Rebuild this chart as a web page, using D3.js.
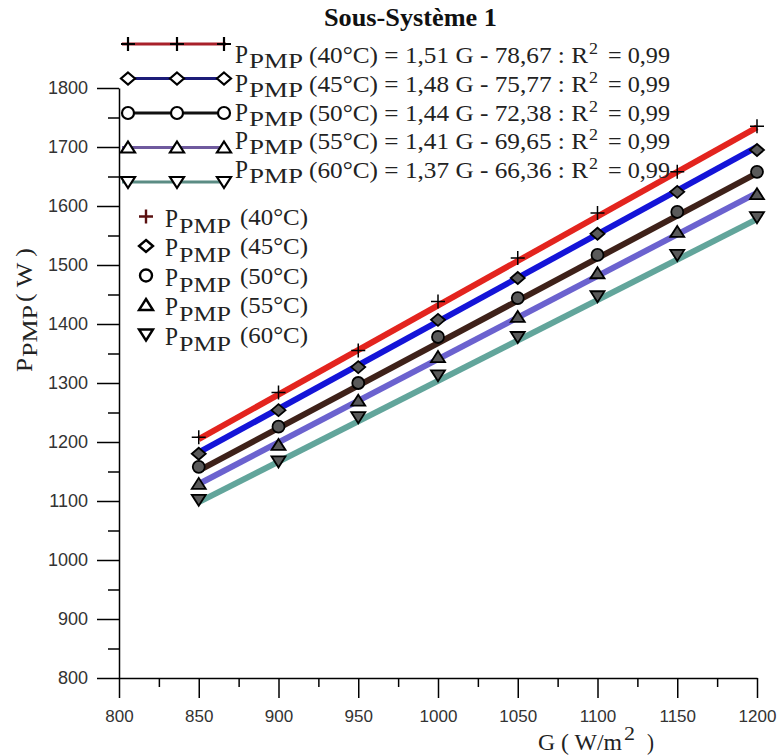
<!DOCTYPE html>
<html lang="fr">
<head>
<meta charset="UTF-8">
<title>Sous-Système 1</title>
<script src="https://d3js.org/d3.v7.min.js"></script>
<style>
    body { margin: 0; background: #fff; }
    .tick text { font-family: "Liberation Sans", Arial, sans-serif; fill: #333; }
    .tick line, .domain { stroke: #000; stroke-width: 1.5px; }
    .serif { font-family: "Liberation Serif", "Times New Roman", serif; fill: #222; }
</style>
</head>
<body>
<div id="chart"></div>
<script>
// Data
const temps = ["40°C", "45°C", "50°C", "55°C", "60°C"];
const G = [850, 900, 950, 1000, 1050, 1100, 1150, 1200];
const p40 = [1208, 1284, 1355, 1438, 1512, 1588, 1658, 1735];
const p45 = [1180, 1254, 1327, 1407, 1478, 1553, 1624, 1695];
const p50 = [1158, 1226, 1300, 1378, 1444, 1517, 1590, 1658];
const p55 = [1129, 1195, 1270, 1344, 1412, 1486, 1556, 1620];
const p60 = [1102, 1167, 1242, 1313, 1378, 1447, 1517, 1581];
// regression from the legend
const slopes = [1.51, 1.48, 1.44, 1.41, 1.37];
const intercepts = [-78.67, -75.77, -72.38, -69.65, -66.36];
const r2 = [0.99, 0.99, 0.99, 0.99, 0.99];
const xTicks = [800, 850, 900, 950, 1000, 1050, 1100, 1150, 1200];
const yTicks = [800, 900, 1000, 1100, 1200, 1300, 1400, 1500, 1600, 1700, 1800];

const series = [p40, p45, p50, p55, p60];
const fitColors = ["#e3241e", "#1414d8", "#3e2119", "#6b62cf", "#62a59b"];
const legColors = ["#a8202a", "#1c1c78", "#111", "#6f5a9e", "#5b8c84"];

// marker shapes
const shapes = [
    "M-7,0H7M0,-7V7",
    "M0,-6L7,0L0,6L-7,0Z",
    "M6,0A6,6 0 1,1 -6,0A6,6 0 1,1 6,0Z",
    "M0,-6L7,5L-7,5Z",
    "M0,6L7,-5L-7,-5Z"
];

const width = 778, height = 756;
const svg = d3.select("#chart").append("svg")
    .attr("width", width).attr("height", height);
svg.append("rect").attr("width", width).attr("height", height).attr("fill", "#fff");

const x = d3.scaleLinear().domain([800, 1200]).range([119, 757]);
const y = d3.scaleLinear().domain([800, 1800]).range([678, 88]);

// axes
const xMinor = d3.range(825, 1200, 50);
const yMinor = d3.range(850, 1800, 100);

svg.append("g").attr("transform", "translate(0,678)")
    .call(d3.axisBottom(x).tickValues(xMinor).tickSize(9).tickFormat(""))
    .select(".domain").remove();
svg.append("g").attr("transform", "translate(119,0)")
    .call(d3.axisLeft(y).tickValues(yMinor).tickSize(11).tickFormat(""))
    .select(".domain").remove();

svg.append("g").attr("transform", "translate(0,678)")
    .call(d3.axisBottom(x).tickValues(xTicks).tickSize(20).tickSizeOuter(0)
        .tickPadding(12).tickFormat(d3.format("d")))
    .selectAll("text").style("font-size", "17px");
svg.append("g").attr("transform", "translate(119,0)")
    .call(d3.axisLeft(y).tickValues(yTicks).tickSize(22).tickSizeOuter(0)
        .tickPadding(9).tickFormat(d3.format("d")))
    .selectAll("text").style("font-size", "18px");

// fit lines
const line = d3.line().x(d => x(d[0])).y(d => y(d[1]));
series.forEach((s, i) => {
    const g0 = G[0], g1 = G[G.length - 1];
    const pts = [[g0, slopes[i] * g0 + intercepts[i]], [g1, slopes[i] * g1 + intercepts[i]]];
    svg.append("path").attr("d", line(pts))
        .attr("fill", "none").attr("stroke", fitColors[i])
        .attr("stroke-width", 6);
});

// data markers
series.forEach((s, i) => {
    svg.append("g").selectAll("path")
        .data(s).join("path")
        .attr("transform", (d, j) => `translate(${x(G[j])},${y(d)})`)
        .attr("d", shapes[i])
        .attr("fill", i === 0 ? "none" : "#5a5a5a")
        .attr("stroke", "#000").attr("stroke-width", i === 0 ? 1.5 : 1.8);
});

// text helper
function txt(parent, str, px, py, size, len, extra) {
    const t = parent.append("text").attr("class", "serif")
        .attr("x", px).attr("y", py)
        .style("font-size", size + "px").text(str);
    if (len) t.attr("textLength", len).attr("lengthAdjust", "spacingAndGlyphs");
    if (extra) extra(t);
    return t;
}
const fr = v => d3.format(".2f")(Math.abs(v)).replace(".", ",");

// title
txt(svg, "Sous-Système 1", 324, 26, 25, 173, t => t.style("font-weight", "bold").style("fill", "#111"));

// legend 1: fit lines
temps.forEach((t, i) => {
    const ly = 44 + 34.5 * i;
    const b = 63 + 28.75 * i;
    const lg = svg.append("g");
    lg.append("line").attr("x1", 122).attr("x2", 226).attr("y1", ly).attr("y2", ly)
        .attr("stroke", legColors[i]).attr("stroke-width", 3);
    [128, 177, 224].forEach(mx => {
        lg.append("path").attr("transform", `translate(${mx},${ly})`)
            .attr("d", shapes[i]).attr("fill", i === 0 ? "none" : "#fff")
            .attr("stroke", "#000").attr("stroke-width", 2.2);
    });
    txt(lg, "P", 235, b, 25, 13);
    txt(lg, "PMP", 249, b + 5, 22, 54);
    txt(lg, `(${t}) = ${fr(slopes[i])} G - ${fr(intercepts[i])} : R`, 309, b, 23, 279);
    txt(lg, "2", 589, b - 9, 17, 9);
    txt(lg, `= ${fr(r2[i])}`, 608, b, 23, 62);
});

// legend 2: data markers
temps.forEach((t, i) => {
    const my = 216.5 + 29.5 * i;
    const lg = svg.append("g");
    lg.append("path").attr("transform", `translate(146,${my})`)
        .attr("d", shapes[i]).attr("fill", i === 0 ? "none" : "#fff")
        .attr("stroke", i === 0 ? "#5a1010" : "#000").attr("stroke-width", 2.4);
    txt(lg, "P", 165, my + 10, 25, 13);
    txt(lg, "PMP", 179, my + 16, 22, 52);
    txt(lg, `(${t})`, 240, my + 8, 23, 68);
});

// y axis label
const yl = svg.append("g").attr("transform", "translate(32,372) rotate(-90)");
txt(yl, "P", 0, 0, 24, 14);
txt(yl, "PMP", 15, 5, 22, 52);
txt(yl, "( W )", 70, 0, 23, 54);

// x axis label
txt(svg, "G ( W/m", 538, 750, 23, 84);
txt(svg, "2", 624, 740, 18, 11);
txt(svg, ")", 647, 750, 23, 7);
</script>
</body>
</html>
